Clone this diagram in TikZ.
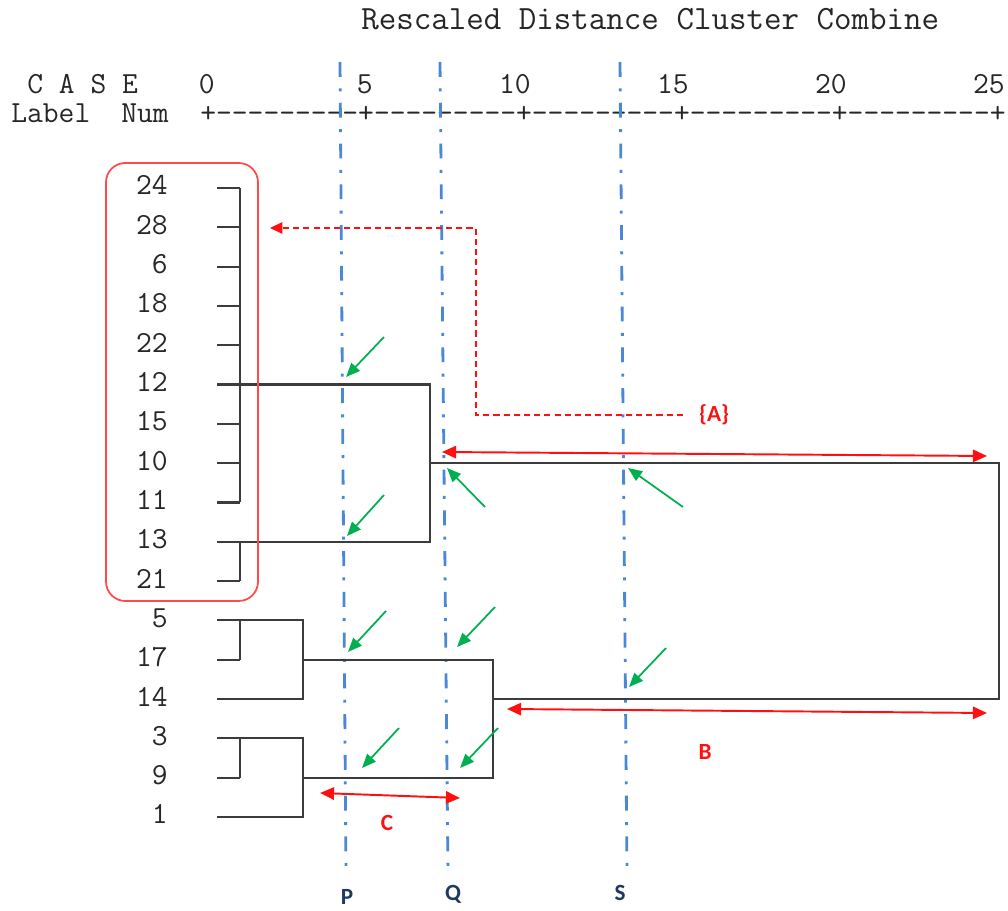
\documentclass[tikz,border=0pt]{standalone}
\usepackage{fontspec}
\newfontfamily\notefont{Carlito}
\usepackage{tikz}
\usetikzlibrary{positioning, arrows.meta, calc}
\definecolor{treegray}{HTML}{3C3C3C}
\definecolor{textgray}{HTML}{262626}
\definecolor{cutblue}{HTML}{4A88D6}
\definecolor{cutnavy}{HTML}{1F3864}
\definecolor{markred}{HTML}{FF1010}
\definecolor{boxred}{HTML}{FF4A4A}
\definecolor{pointgreen}{HTML}{00B050}

\begin{document}
\begin{tikzpicture}[x=0.02cm, y=-0.02cm,
  mono/.style={font=\ttfamily\fontsize{17.45}{19}\selectfont, text=textgray, inner sep=0pt},
  leaf/.style={mono, anchor=base east},
  treeline/.style={draw=treegray, line width=1.2pt},
  cutline/.style={draw=cutblue, line width=1.6pt, dash pattern=on 8.5pt off 6.5pt on 1.7pt off 6.5pt},
  cutlabel/.style={font=\notefont\bfseries\fontsize{13.2}{15}\selectfont, text=cutnavy, inner sep=1pt},
  note/.style={font=\notefont\bfseries\fontsize{13.2}{15}\selectfont, text=markred, inner sep=1pt},
  clusterbox/.style={draw=boxred, line width=1pt, rounded corners=11pt},
  reddash/.style={draw=markred, line width=0.8pt, dash pattern=on 3.5pt off 2.3pt, -{Triangle[length=7pt,width=6.5pt]}},
  spanarrow/.style={draw=markred, line width=1.1pt, {Triangle[length=8pt,width=7pt]}-{Triangle[length=8pt,width=7pt]}},
  greenarrow/.style={draw=pointgreen, line width=1pt, -{Triangle[length=8pt,width=6.5pt]}}
]
\useasboundingbox (0,0) rectangle (1008,911);

\node[mono, font=\ttfamily\fontsize{19.35}{21}\selectfont, anchor=base west] (title) at (361,30) {Rescaled Distance Cluster Combine};
\node[mono, anchor=base west] (case) at (27,94) {C A S E};
\node[mono, anchor=base west] (label) at (11,123) {Label};
\node[mono, anchor=base west] (num) at (121,123) {Num};
\foreach \v [count=\k from 0] in {0,5,...,25}
  \node[mono, anchor=base east] (t\v) at (215+158*\k,94) {\v};
\node[mono, anchor=base west] (axis) at (200,123) {+---------+---------+---------+---------+---------+};

\coordinate (ptop) at (340,62);
\coordinate (pbot) at (346,874);
\coordinate (qtop) at (440,62);
\coordinate (qbot) at (448,874);
\coordinate (stop) at (620,62);
\coordinate (sbot) at (627,872);
\draw[cutline] (ptop) -- (pbot);
\draw[cutline] (qtop) -- (qbot);
\draw[cutline] (stop) -- (sbot);
\node[cutlabel] (P) at (347,897) {P};
\node[cutlabel] (Q) at (453,894) {Q};
\node[cutlabel] (S) at (620,893) {S};

\foreach \lab [count=\i from 0] in {24,28,6,18,22,12,15,10,11,13,21,5,17,14,3,9,1} {
  \node[leaf] (n\lab) at (168,195+39.31*\i) {\lab};
  \coordinate (s\lab) at (217,188+39.31*\i);
  \draw[treeline] (s\lab) -- ++(23,0);
}
\coordinate (k1) at (240,0);
\coordinate (k2) at (303,0);
\coordinate (k3) at (430,0);
\coordinate (k4) at (493,0);
\coordinate (k5) at (999,0);

\draw[treeline] (s24 -| k1) -- (s11 -| k1);
\draw[treeline] (s13 -| k1) -- (s21 -| k1);
\draw[treeline] (s12) -- (s12 -| k3) -- (s13 -| k3) -- (s13);
\draw[treeline] (s10 -| k3) -- (s10 -| k5) -- (s14 -| k5) -- (s14 -| k4);
\draw[treeline] (s5 -| k1) -- (s17 -| k1);
\draw[treeline] (s5) -- (s5 -| k2) -- (s14 -| k2) -- (s14);
\draw[treeline] (s17 -| k2) -- (s17 -| k4) -- (s9 -| k4) -- (s9 -| k2);
\draw[treeline] (s3 -| k1) -- (s9 -| k1);
\draw[treeline] (s3) -- (s3 -| k2) -- (s1 -| k2) -- (s1);

\draw[clusterbox] (106,163) rectangle (258,601);

\node[note, anchor=west] (A) at (697,415) {\{A\}};
\coordinate (abend) at (476,415);
\coordinate (atip) at (270,228);
\draw[reddash, shorten <=8pt] (A.west) -- (abend) |- (atip);

\coordinate (aleft) at (442,452);
\coordinate (aright) at (987,456);
\draw[spanarrow] (aleft) -- (aright);
\node[note] (B) at (705,752) {B};
\coordinate (bleft) at (507,709);
\coordinate (bright) at (987,713);
\draw[spanarrow] (bleft) -- (bright);
\node[note] (C) at (387,823) {C};
\coordinate (cleft) at (320,793);
\coordinate (cright) at (460,798);
\draw[spanarrow] (cleft) -- (cright);

\foreach \ax/\ay/\bx/\by [count=\g] in {384/337/346/377, 384/495/347/536, 485/507/447/468, 683/507/628/468,
    386/611/348/652, 495/607/457/647, 399/728/362/768, 498/728/460/768, 666/648/629/687} {
  \coordinate (g\g from) at (\ax,\ay);
  \coordinate (g\g to) at (\bx,\by);
  \draw[greenarrow] (g\g from) -- (g\g to);
}
\end{tikzpicture}
\end{document}
